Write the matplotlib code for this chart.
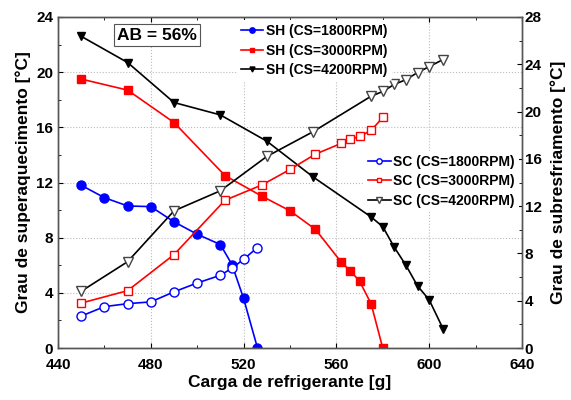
import matplotlib.pyplot as plt
from matplotlib.ticker import MultipleLocator

plt.rcParams['font.family'] = ['Liberation Sans', 'DejaVu Sans']
plt.rcParams['font.weight'] = 'bold'

# superaquecimento (eixo esquerdo)
x_sh1800 = [450, 460, 470, 480, 490, 500, 510, 515, 520, 526]
sh1800 = [11.8, 10.9, 10.3, 10.25, 9.15, 8.25, 7.5, 6.05, 3.6, 0.0]

x_sh3000 = [450, 470, 490, 512, 528, 540, 551, 562, 566, 570, 575, 580]
sh3000 = [19.5, 18.7, 16.35, 12.5, 11.0, 9.95, 8.6, 6.25, 5.6, 4.85, 3.2, 0.0]

x_sh4200 = [450, 470, 490, 510, 530, 550, 575, 580, 585, 590, 595, 600, 606]
sh4200 = [22.6, 20.7, 17.8, 16.9, 15.0, 12.4, 9.5, 8.8, 7.3, 6.0, 4.5, 3.5, 1.4]

# subresfriamento (eixo direito)
x_sc1800 = [450, 460, 470, 480, 490, 500, 510, 515, 520, 526]
sc1800 = [2.7, 3.5, 3.75, 3.9, 4.75, 5.5, 6.15, 6.75, 7.5, 8.5]

x_sc3000 = [450, 470, 490, 512, 528, 540, 551, 562, 566, 570, 575, 580]
sc3000 = [3.8, 4.85, 7.9, 12.5, 13.8, 15.1, 16.4, 17.3, 17.65, 17.9, 18.4, 19.5]

x_sc4200 = [450, 470, 490, 510, 530, 550, 575, 580, 585, 590, 595, 600, 606]
sc4200 = [4.8, 7.3, 11.6, 13.3, 16.2, 18.3, 21.3, 21.7, 22.3, 22.7, 23.3, 23.8, 24.4]

fig = plt.figure(figsize=(5.71, 4.0), dpi=100)
ax = fig.add_axes([0.1016, 0.13, 0.8124, 0.8275])
ax2 = ax.twinx()

lw = 1.2
ms = 6.5
l1, = ax.plot(x_sh1800, sh1800, '-o', color='#0000ff', lw=lw, ms=ms)
l2, = ax.plot(x_sh3000, sh3000, '-s', color='#ff0000', lw=lw, ms=ms - 0.5)
l3, = ax.plot(x_sh4200, sh4200, '-v', color='black', lw=lw, ms=ms - 0.5)

m1, = ax2.plot(x_sc1800, sc1800, '-o', color='#0000ff', mfc='white', lw=lw, ms=ms)
m2, = ax2.plot(x_sc3000, sc3000, '-s', color='#ff0000', mfc='white', lw=lw, ms=ms - 0.5)
m3, = ax2.plot(x_sc4200, sc4200, '-v', color='black', mfc='white', mec='#444444', lw=lw, ms=ms + 1)

ax.set_xlim(440, 640)
ax.set_ylim(0, 24)
ax2.set_ylim(0, 28)
ax.xaxis.set_major_locator(MultipleLocator(40))
ax.xaxis.set_minor_locator(MultipleLocator(20))
ax.yaxis.set_major_locator(MultipleLocator(4))
ax.yaxis.set_minor_locator(MultipleLocator(2))
ax2.yaxis.set_major_locator(MultipleLocator(4))
ax2.yaxis.set_minor_locator(MultipleLocator(2))

ax.grid(True, which='major', color='#bbbbbb', ls=':', lw=0.8)
ax.tick_params(axis='both', which='both', direction='in', top=True, labelsize=11)
ax.tick_params(axis='x', which='major', pad=7)
ax.tick_params(axis='y', which='both', right=False)
ax2.tick_params(axis='y', which='both', direction='in', labelsize=11, pad=2)
for a in (ax, ax2):
    for s in a.spines.values():
        s.set_color('#555555')
        s.set_linewidth(1.0)

ax.set_xlabel('Carga de refrigerante [g]', fontsize=12.5, fontweight='bold', labelpad=2)
ax.set_ylabel('Grau de superaquecimento [°C]', fontsize=12.5, fontweight='bold', labelpad=4)
ax2.set_ylabel('Grau de subresfriamento [°C]', fontsize=12.5, fontweight='bold', labelpad=6)

leg1 = ax2.legend([l1, l2, l3],
                  ['SH (CS=1800RPM)', 'SH (CS=3000RPM)', 'SH (CS=4200RPM)'],
                  loc='upper left', bbox_to_anchor=(0.38, 1.0), frameon=True,
                  edgecolor='none', facecolor='white', framealpha=1,
                  fontsize=10, handlelength=1.6, handletextpad=0.2,
                  labelspacing=0.4, borderpad=0.3, borderaxespad=0.2,
                  markerscale=0.6)
ax2.add_artist(leg1)
leg2 = ax2.legend([m1, m2, m3],
                  ['SC (CS=1800RPM)', 'SC (CS=3000RPM)', 'SC (CS=4200RPM)'],
                  loc='upper right', bbox_to_anchor=(1.0, 0.605), frameon=True,
                  edgecolor='none', facecolor='white', framealpha=1,
                  fontsize=10, handlelength=1.6, handletextpad=0.2,
                  labelspacing=0.4, borderpad=0.3, borderaxespad=0.2,
                  markerscale=0.6)

ax.text(0.128, 0.968, 'AB = 56%', transform=ax.transAxes, fontsize=12.5,
        fontweight='bold', va='top', ha='left',
        bbox=dict(boxstyle='square,pad=0.18', fc='white', ec='#555555', lw=0.8))

fig.savefig('out.png', dpi=100)
